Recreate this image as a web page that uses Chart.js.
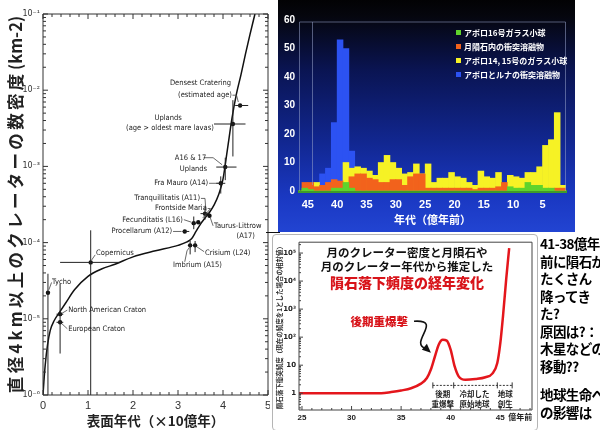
<!DOCTYPE html>
<html lang="ja">
<head>
<meta charset="utf-8">
<title>隕石落下頻度の経年変化</title>
<script src="https://cdn.jsdelivr.net/npm/chart.js@4.4.1/dist/chart.umd.min.js"></script>
<style>
  html, body { margin: 0; padding: 0; }
  body { position: relative; width: 600px; height: 430px; overflow: hidden; background: #fff; }
  .box { position: absolute; overflow: hidden; }
  #craterBox { left: 0; top: 0; width: 270px; height: 430px; }
  #histBox { left: 278px; top: 0; width: 297px; height: 232px; }
  #fluxBox { left: 272px; top: 234px; width: 264px; height: 195px; border: 1px solid #b5b5b5; border-radius: 4px; background: #fff; }
  #rule { position: absolute; left: 266px; top: 232px; width: 14px; height: 1px; background: #111; }
  #note { position: absolute; left: 540px; top: 235px; font-family: "Noto Sans CJK JP", sans-serif; font-weight: 700;
          font-size: 13.5px; line-height: 17.5px; letter-spacing: -0.6px; color: #000; white-space: nowrap; }
  #note .gap { height: 11px; }
</style>
</head>
<body>
<div id="craterBox" class="box"><canvas id="craterChart" width="282" height="430"></canvas></div>
<div id="histBox" class="box"><canvas id="histChart" width="297" height="232"></canvas></div>
<div id="rule"></div>
<div id="fluxBox" class="box"><canvas id="fluxChart" width="264" height="195"></canvas></div>
<div id="note"></div>
<script>
// ---- left: crater density vs surface age
const craterAges = [0, 0.02, 0.05, 0.1, 0.16, 0.25, 0.38, 0.5, 0.7, 1.0, 1.3, 1.6, 2.0, 2.5, 3.0, 3.2, 3.3, 3.4, 3.5, 3.6, 3.7, 3.8, 3.9, 4.0, 4.1, 4.2, 4.3, 4.4, 4.5, 4.6, 4.71];
const craterDensity = [1e-6, 1.5e-6, 2.5e-6, 4.5e-6, 7e-6, 9.5e-6, 1.25e-5, 1.6e-5, 2.4e-5, 3.6e-5, 4.5e-5, 5.2e-5, 6.5e-5, 7.8e-5, 9.2e-5, 1.02e-4, 1.12e-4, 1.4e-4, 1.75e-4, 2.1e-4, 2.5e-4, 3.1e-4, 4.2e-4, 6.8e-4, 1.7e-3, 4.3e-3, 9e-3, 1.6e-2, 3e-2, 5.4e-2, 1e-1];
const siteNames = ["Tycho", "North American Craton", "European Craton", "Copernicus", "Procellarum (A12)", "Fecunditatis (L16)", "Frontside Maria", "Tranquillitatis (A11)", "Taurus-Littrow (A17)", "Imbrium (A15)", "Crisium (L24)", "Fra Mauro (A14)", "A16 & 17 Uplands", "Uplands", "Densest Cratering"];
const siteAges = [0.11, 0.38, 0.38, 1.06, 3.15, 3.35, 3.45, 3.6, 3.7, 3.27, 3.38, 3.95, 4.05, 4.22, 4.38];
const siteDensity = [2.2e-5, 1.15e-5, 9e-6, 5.5e-5, 1.4e-4, 1.8e-4, 1.85e-4, 2.4e-4, 2.25e-4, 9.2e-5, 9.2e-5, 6e-4, 9.8e-4, 3.6e-3, 6.3e-3];
const siteAgeRange = [null, [0.3, 0.45], [0.3, 0.45], [0.38, 1.7], [3.1, 3.25], null, null, [3.5, 3.7], null, null, null, [3.85, 4.05], [3.85, 4.3], [3.8, 4.5], [4.27, 4.56]];
const siteDensityRange = [[1e-6, 3.9e-5], [3.5e-6, 2.9e-5], null, [1e-6, 1.45e-4], null, [1.5e-4, 2.2e-4], null, [2e-4, 2.9e-4], null, [7e-5, 1.05e-4], [7.5e-5, 1.05e-4], [4.4e-4, 7.4e-4], [6.6e-4, 1.3e-3], [1.35e-3, 7.4e-3], null];
const craterXTicks = [0, 1, 2, 3, 4, 5];
const craterYTicks = [1e-6, 1e-5, 1e-4, 1e-3, 1e-2, 1e-1];

// ---- top right: impact age histogram (bins of 1 = 100 Myr)
const binAges = [45.5, 44.5, 43.5, 42.5, 41.5, 40.5, 39.5, 38.5, 37.5, 36.5, 35.5, 34.5, 33.5, 32.5, 31.5, 30.5, 29.5, 28.5, 27.5, 26.5, 25.5, 24.5, 23.5, 22.5, 21.5, 20.5, 19.5, 18.5, 17.5, 16.5, 15.5, 14.5, 13.5, 12.5, 11.5, 10.5, 9.5, 8.5, 7.5, 6.5, 5.5, 4.5, 3.5, 2.5, 1.5];
const glassA16 =     [1, 0.5, 0, 0, 0, 1, 1, 3, 1, 0, 0, 0, 0, 0, 0, 0, 0, 0, 0, 0, 0, 0, 0, 0, 0, 0, 0, 0, 0, 0, 0, 0, 0, 0, 0, 1.5, 1, 1, 3, 2, 2, 1, 1, 0, 0];
const meteoriteMelt = [3, 3, 1.5, 2, 3, 4, 3.5, 0, 5, 6, 6, 4.5, 4, 3, 3, 4, 4, 2, 5, 6, 6, 1, 1, 1, 1, 1, 1, 1, 1, 0.5, 1, 1, 1, 1.5, 3, 0, 0, 0, 0, 0, 0, 0, 0, 1, 1];
const glassA14A15 =  [0, 2.5, 3, 0, 0, 0, 0, 10, 8, 8.5, 8, 7, 5.5, 10, 12.5, 10, 8, 6, 6.5, 9.5, 6, 9.5, 3, 4.5, 4.5, 6.5, 5, 4.5, 3, 2, 7, 5, 4.5, 6.5, 0, 5.5, 5, 4.5, 6.5, 6.5, 8.5, 16, 18, 27.5, 2];
const apolloLunaMelt = [0, 0, 0, 6, 8, 24, 53, 50, 14, 0, 0, 0, 0, 0, 0, 0, 0, 0, 0, 0, 0, 0, 0, 0, 0, 0, 0, 0, 0, 0, 0, 0, 0, 0, 0, 0, 0, 0, 0, 0, 0, 0, 0, 0, 0];
const histLabels = ["アポロ16号ガラス小球", "月隕石内の衝突溶融物", "アポロ14, 15号のガラス小球", "アポロとルナの衝突溶融物"];
const histColors = ["#5fd32c", "#f2621c", "#f6f225", "#2c52f2"];
const histXTicks = [45, 40, 35, 30, 25, 20, 15, 10, 5];

// ---- bottom right: meteorite flux vs time
const fluxAges = [24.7, 27, 30, 33, 34, 35, 36, 37, 37.6, 38.0, 38.4, 38.8, 39.2, 39.6, 40.0, 40.4, 40.8, 41.5, 42.5, 43.5, 44.2, 44.7, 45.0, 45.3, 45.6, 45.9];
const fluxValues = [1, 1, 1, 1, 1.1, 1.25, 1.5, 2.2, 3.5, 7, 20, 55, 80, 75, 35, 9, 4, 3, 3.2, 3.7, 5, 12, 60, 700, 12000, 150000];
const fluxXTicks = [25, 30, 35, 40, 45];
const fluxYTicks = [1, 10, 100, 1000, 10000, 100000];

const noteLines = ["41-38億年", "前に隕石が", "たくさん", "降ってき", "た?", "原因は?：", "木星などの", "移動??", "", "地球生命へ", "の影響は"];

const JP = "'Noto Sans CJK JP', sans-serif";
Chart.defaults.font.family = "'Liberation Sans', 'Noto Sans CJK JP', sans-serif";

const supMap = { "-": "⁻", "0": "⁰", "1": "¹", "2": "²", "3": "³", "4": "⁴", "5": "⁵", "6": "⁶", "7": "⁷", "8": "⁸", "9": "⁹" };
function powLabel(v) {
  const e = Math.round(Math.log10(v));
  if (e === 0) return "1";
  if (e === 1) return "10";
  return "10" + String(e).split("").map((c) => supMap[c]).join("");
}
const spaced = (s) => s.split("").join("\u2009");

// inward tick marks along the plot frame
function frameTicks(o) {
  return {
    id: "frameTicks",
    afterDraw(chart) {
      const { ctx, chartArea: a, scales } = chart;
      const xs = scales.x, ys = scales.y;
      ctx.save();
      ctx.strokeStyle = o.color;
      ctx.lineWidth = 1;
      ctx.beginPath();
      if (o.frame) ctx.rect(a.left, a.top, a.right - a.left, a.bottom - a.top);
      const n0 = Math.ceil(Math.min(xs.min, xs.max) / o.xStep);
      const n1 = Math.floor(Math.max(xs.min, xs.max) / o.xStep);
      for (let n = n0; n <= n1; n++) {
        const v = n * o.xStep;
        const px = xs.getPixelForValue(v);
        const len = Math.abs(v / o.xMajor - Math.round(v / o.xMajor)) < 1e-6 ? o.major : o.minor;
        ctx.moveTo(px, a.bottom); ctx.lineTo(px, a.bottom - len);
        if (o.top) { ctx.moveTo(px, a.top); ctx.lineTo(px, a.top + len); }
      }
      for (let e = Math.floor(Math.log10(ys.min)); e <= Math.ceil(Math.log10(ys.max)); e++) {
        for (let m = 1; m <= 9; m++) {
          const v = m * Math.pow(10, e);
          if (v < ys.min || v > ys.max) continue;
          const py = ys.getPixelForValue(v);
          const len = m === 1 ? o.major : o.minor;
          ctx.moveTo(a.left, py); ctx.lineTo(a.left + len, py);
          if (o.right) { ctx.moveTo(a.right, py); ctx.lineTo(a.right - len, py); }
        }
      }
      ctx.stroke();
      ctx.restore();
    },
  };
}

// text placed at data coordinates
function textNotes(items, font, color) {
  return {
    id: "textNotes",
    afterDraw(chart) {
      const { ctx, scales } = chart;
      ctx.save();
      ctx.textBaseline = "middle";
      items.forEach((n) => {
        ctx.font = n[4] || font;
        ctx.fillStyle = n[5] || color;
        ctx.textAlign = n[3] || "left";
        ctx.fillText(n[0], scales.x.getPixelForValue(n[1]), scales.y.getPixelForValue(n[2]));
      });
      ctx.restore();
    },
  };
}

// ================= left chart
const craterNotes = [
  ["Densest Cratering", 4.18, 1.24e-2, "right"],
  ["(estimated age)", 4.2, 8.6e-3, "right"],
  ["Uplands", 2.78, 4.3e-3, "center"],
  ["(age > oldest mare lavas)", 2.82, 3.2e-3, "center"],
  ["A16 & 17", 2.93, 1.3e-3, "left"],
  ["Uplands", 3.04, 9.3e-4, "left"],
  ["Fra Mauro (A14)", 3.67, 6e-4, "right"],
  ["Tranquillitatis (A11)", 3.49, 3.8e-4, "right"],
  ["Frontside Maria", 3.64, 2.8e-4, "right"],
  ["Fecunditatis (L16)", 3.11, 2e-4, "right"],
  ["Procellarum (A12)", 2.87, 1.4e-4, "right"],
  ["Taurus-Littrow", 3.8, 1.66e-4, "left"],
  ["(A17)", 4.3, 1.23e-4, "left"],
  ["Crisium (L24)", 3.6, 7.2e-5, "left"],
  ["Imbrium (A15)", 2.89, 5.1e-5, "left"],
  ["Copernicus", 1.18, 7.2e-5, "left"],
  ["Tycho", 0.2, 3e-5, "left"],
  ["North American Craton", 0.56, 1.3e-5, "left"],
  ["European Craton", 0.56, 7.4e-6, "left"],
];
// leader lines from labels to their points (data coordinates)
const craterLeaders = [
  [[4.21, 8.6e-3], [4.3, 8.6e-3], [4.34, 7e-3]],
  [[3.57, 1.3e-3], [3.78, 1.3e-3], [3.98, 1.05e-3]],
  [[3.69, 6e-4], [3.9, 6e-4]],
  [[3.51, 3.8e-4], [3.6, 3.8e-4], [3.62, 2.6e-4]],
  [[3.66, 2.8e-4], [3.72, 2.8e-4], [3.55, 2.1e-4]],
  [[3.13, 2e-4], [3.3, 1.85e-4]],
  [[2.89, 1.4e-4], [3.08, 1.4e-4]],
  [[3.78, 1.66e-4], [3.72, 2.1e-4]],
  [[3.58, 7.6e-5], [3.42, 8.8e-5]],
  [[3.15, 5.6e-5], [3.2, 7.8e-5], [3.25, 8.6e-5]],
  [[1.16, 6.9e-5], [1.08, 5.9e-5]],
  [[0.19, 3e-5], [0.13, 2.4e-5]],
  [[0.54, 1.3e-5], [0.42, 1.18e-5]],
  [[0.54, 7.4e-6], [0.42, 8.6e-6]],
];
const errorBars = {
  id: "errorBars",
  afterDatasetsDraw(chart) {
    const { ctx, scales: { x, y } } = chart;
    ctx.save();
    ctx.strokeStyle = "#222";
    ctx.lineWidth = 1;
    siteAges.forEach((age, i) => {
      const px = x.getPixelForValue(age), py = y.getPixelForValue(siteDensity[i]);
      const ar = siteAgeRange[i], dr = siteDensityRange[i];
      ctx.beginPath();
      if (ar) { ctx.moveTo(x.getPixelForValue(ar[0]), py); ctx.lineTo(x.getPixelForValue(ar[1]), py); }
      if (dr) { ctx.moveTo(px, y.getPixelForValue(dr[0])); ctx.lineTo(px, y.getPixelForValue(dr[1])); }
      ctx.stroke();
    });
    ctx.lineWidth = 0.8;
    ctx.strokeStyle = "#444";
    ctx.beginPath();
    craterLeaders.forEach((pts) => {
      pts.forEach((p, k) => {
        const px = x.getPixelForValue(p[0]), py = y.getPixelForValue(p[1]);
        if (k === 0) ctx.moveTo(px, py); else ctx.lineTo(px, py);
      });
    });
    ctx.stroke();
    ctx.restore();
  },
};

new Chart(document.getElementById("craterChart"), {
  type: "line",
  data: {
    datasets: [
      {
        data: craterAges.map((a, i) => ({ x: a, y: craterDensity[i] })),
        borderColor: "#111",
        borderWidth: 1.5,
        pointRadius: 0,
        cubicInterpolationMode: "monotone",
      },
      {
        data: siteAges.map((a, i) => ({ x: a, y: siteDensity[i] })),
        showLine: false,
        pointRadius: 2.2,
        pointBackgroundColor: "#111",
        pointBorderWidth: 0,
      },
    ],
  },
  options: {
    responsive: false,
    animation: false,
    layout: { padding: { top: 14, right: 14, left: 0, bottom: 0 } },
    plugins: { legend: { display: false }, tooltip: { enabled: false } },
    scales: {
      x: {
        type: "linear",
        min: 0,
        max: 5,
        afterBuildTicks: (s) => { s.ticks = craterXTicks.map((v) => ({ value: v })); },
        afterFit: (s) => { s.height = 35; },
        grid: { display: false, drawTicks: false },
        border: { display: false },
        ticks: { color: "#333", font: { size: 11 }, padding: 4, maxRotation: 0 },
        title: { display: true, text: "表面年代（×10億年）", color: "#222", font: { family: JP, size: 13.5, weight: "bold" }, padding: { top: 0, bottom: 1 } },
      },
      y: {
        type: "logarithmic",
        min: 1e-6,
        max: 1e-1,
        afterBuildTicks: (s) => { s.ticks = craterYTicks.map((v) => ({ value: v })); },
        afterFit: (s) => { s.width = 43; },
        grid: { display: false, drawTicks: false },
        border: { display: false },
        ticks: { color: "#333", font: { family: "'DejaVu Sans', sans-serif", size: 8 }, padding: 3, callback: (v) => powLabel(v) },
        title: { display: true, text: spaced("直径4km以上のクレーターの数密度") + " (km-2)", color: "#222", font: { family: JP, size: 16.5, weight: "bold" }, padding: { top: 6, bottom: 0 } },
      },
    },
  },
  plugins: [
    frameTicks({ color: "#333", frame: true, xStep: 0.2, xMajor: 1, major: 5, minor: 3, top: true, right: true }),
    errorBars,
    textNotes(craterNotes, "7.5px 'Liberation Sans Narrow', 'DejaVu Sans Condensed', sans-serif", "#222"),
  ],
});

// ================= top right chart
const innerFrameAge = 44.3;
const nightSky = {
  id: "nightSky",
  beforeDraw(chart) {
    const { ctx, width, height } = chart;
    const g = ctx.createLinearGradient(0, 0, 0, height);
    g.addColorStop(0, "#020204");
    g.addColorStop(0.07, "#05060e");
    g.addColorStop(0.3, "#0a1452");
    g.addColorStop(0.6, "#11268e");
    g.addColorStop(0.85, "#1a38c2");
    g.addColorStop(1, "#2244d2");
    ctx.save();
    ctx.fillStyle = g;
    ctx.fillRect(0, 0, width, height);
    ctx.restore();
  },
  afterDraw(chart) {
    const { ctx, chartArea: a, scales: { x } } = chart;
    ctx.save();
    ctx.strokeStyle = "rgba(150,160,200,0.55)";
    ctx.lineWidth = 1;
    ctx.beginPath();
    ctx.moveTo(a.left + 0.5, a.bottom); ctx.lineTo(a.left + 0.5, a.top + 2);
    ctx.lineTo(a.right - 0.5, a.top + 2); ctx.lineTo(a.right - 0.5, a.bottom);
    const ix = Math.round(x.getPixelForValue(innerFrameAge)) + 0.5;
    ctx.moveTo(ix, a.top + 2); ctx.lineTo(ix, a.bottom - 6);
    ctx.stroke();
    // legend, drawn inside the plot
    ctx.textBaseline = "middle";
    ctx.font = "bold 8px " + JP;
    chart.data.datasets.forEach((ds, i) => {
      const y = a.top + 13 + i * 14;
      ctx.fillStyle = ds.backgroundColor;
      ctx.fillRect(a.right - 110, y - 3, 5, 5);
      ctx.fillStyle = "#fff";
      ctx.fillText(ds.label, a.right - 102, y);
    });
    ctx.restore();
  },
};

const histSeries = [glassA16, meteoriteMelt, glassA14A15, apolloLunaMelt];
new Chart(document.getElementById("histChart"), {
  type: "bar",
  data: {
    datasets: histSeries.map((vals, k) => ({
      label: histLabels[k],
      data: binAges.map((a, i) => ({ x: a, y: vals[i] })),
      backgroundColor: histColors[k],
      borderWidth: 0,
      barPercentage: 1,
      categoryPercentage: 1,
      grouped: false,
    })),
  },
  options: {
    responsive: false,
    animation: false,
    layout: { padding: { top: 20, right: 9, left: 0, bottom: 0 } },
    plugins: { legend: { display: false }, tooltip: { enabled: false } },
    scales: {
      x: {
        type: "linear",
        reverse: true,
        offset: false,
        min: 1,
        max: 46.5,
        afterBuildTicks: (s) => { s.ticks = histXTicks.map((v) => ({ value: v })); },
        afterFit: (s) => { s.height = 41; },
        grid: { display: false, drawTicks: false },
        border: { display: true, color: "#3f9c2a", width: 3, dash: [3, 3] },
        ticks: { color: "#fff", font: { size: 11, weight: "bold" }, padding: 7, maxRotation: 0 },
        title: { display: true, text: "年代（億年前）", color: "#fff", font: { family: JP, size: 11, weight: "bold" }, padding: { top: 0, bottom: 6 } },
      },
      y: {
        min: 0,
        max: 60,
        afterFit: (s) => { s.width = 21; },
        grid: { display: false, drawTicks: false },
        border: { display: false },
        ticks: { stepSize: 10, color: "#fff", font: { size: 10, weight: "bold" }, padding: 4 },
      },
    },
  },
  plugins: [nightSky],
});

// ================= bottom right chart
const fluxNotes = [
  ["月のクレーター密度と月隕石や", 35.6, 1.0e5, "center", "bold 11.5px " + JP, "#111"],
  ["月のクレーター年代から推定した", 35.6, 3.2e4, "center", "bold 11.5px " + JP, "#111"],
  ["隕石落下頻度の経年変化", 35.6, 8.8e3, "center", "900 14px " + JP, "#d8141a"],
  ["後期重爆撃", 32.8, 370, "center", "900 11.5px " + JP, "#d8141a"],
  ["後期", 39.2, 0.92, "center"],
  ["重爆撃", 39.2, 0.41, "center"],
  ["冷却した", 42.4, 0.92, "center"],
  ["原始地球", 42.4, 0.41, "center"],
  ["地球", 45.5, 0.92, "center"],
  ["創生", 45.5, 0.41, "center"],
];
const bracketAges = [38.2, 40.3, 44.7, 46.2];
const fluxExtras = {
  id: "fluxExtras",
  afterDraw(chart) {
    const { ctx, chartArea: a, scales: { x, y } } = chart;
    ctx.save();
    // bracket under the phases
    const by = y.getPixelForValue(1.9);
    ctx.strokeStyle = "#333";
    ctx.lineWidth = 1;
    ctx.setLineDash([2, 1.5]);
    ctx.beginPath();
    ctx.moveTo(x.getPixelForValue(bracketAges[0]), by);
    ctx.lineTo(x.getPixelForValue(bracketAges[bracketAges.length - 1]), by);
    ctx.stroke();
    ctx.setLineDash([]);
    ctx.beginPath();
    bracketAges.forEach((v) => {
      const px = x.getPixelForValue(v);
      ctx.moveTo(px, by - 3); ctx.lineTo(px, by + 3);
    });
    ctx.stroke();
    // squiggly arrow to the peak
    const sx = x.getPixelForValue(36.3), sy = y.getPixelForValue(370);
    const ex = x.getPixelForValue(37.7), ey = y.getPixelForValue(33);
    ctx.lineWidth = 1.6;
    ctx.strokeStyle = "#111";
    ctx.beginPath();
    ctx.moveTo(sx, sy);
    ctx.bezierCurveTo(sx + 30, sy - 2, sx - 6, sy + 22, ex - 2, ey - 2);
    ctx.stroke();
    ctx.fillStyle = "#111";
    ctx.beginPath();
    ctx.moveTo(ex + 3, ey + 2);
    ctx.lineTo(ex - 6, ey - 1);
    ctx.lineTo(ex - 1, ey - 7);
    ctx.closePath();
    ctx.fill();
    // unit after the last tick
    ctx.font = "bold 8px " + JP;
    ctx.fillStyle = "#222";
    ctx.textBaseline = "middle";
    ctx.textAlign = "left";
    ctx.fillText("億年前", x.getPixelForValue(fluxXTicks[fluxXTicks.length - 1]) + 8, a.bottom + 7);
    ctx.restore();
  },
};

new Chart(document.getElementById("fluxChart"), {
  type: "line",
  data: {
    datasets: [
      {
        data: fluxAges.map((a, i) => ({ x: a, y: fluxValues[i] })),
        borderColor: "#e4161c",
        borderWidth: 2.5,
        pointRadius: 0,
        cubicInterpolationMode: "monotone",
      },
    ],
  },
  options: {
    responsive: false,
    animation: false,
    layout: { padding: { top: 5, right: 5, left: 0, bottom: 0 } },
    plugins: { legend: { display: false }, tooltip: { enabled: false } },
    scales: {
      x: {
        type: "linear",
        min: 24.7,
        max: 48.2,
        afterBuildTicks: (s) => { s.ticks = fluxXTicks.map((v) => ({ value: v })); },
        afterFit: (s) => { s.height = 20; },
        grid: { display: false, drawTicks: false },
        border: { display: false },
        ticks: { color: "#222", font: { size: 8, weight: "bold" }, padding: 3, maxRotation: 0 },
      },
      y: {
        type: "logarithmic",
        min: 0.252,
        max: 2.44e5,
        afterBuildTicks: (s) => { s.ticks = fluxYTicks.map((v) => ({ value: v })); },
        afterFit: (s) => { s.width = 26; },
        grid: { display: false, drawTicks: false },
        border: { display: false },
        ticks: { color: "#222", font: { family: "'DejaVu Sans', sans-serif", size: 7, weight: "bold" }, padding: 3, callback: (v) => powLabel(v) },
        title: { display: true, text: "隕石落下衝突頻度（現在の頻度を1とした場合の相対値）", color: "#333", font: { family: JP, size: 6.5, weight: "bold" }, padding: { top: 3, bottom: 0 } },
      },
    },
  },
  plugins: [
    frameTicks({ color: "#444", frame: true, xStep: 1, xMajor: 5, major: 4, minor: 2, top: false, right: false }),
    fluxExtras,
    textNotes(fluxNotes, "bold 7.5px " + JP, "#222"),
  ],
});

// ================= side note
document.getElementById("note").innerHTML = noteLines
  .map((t) => (t ? `<div>${t}</div>` : '<div class="gap"></div>'))
  .join("");
</script>
</body>
</html>
